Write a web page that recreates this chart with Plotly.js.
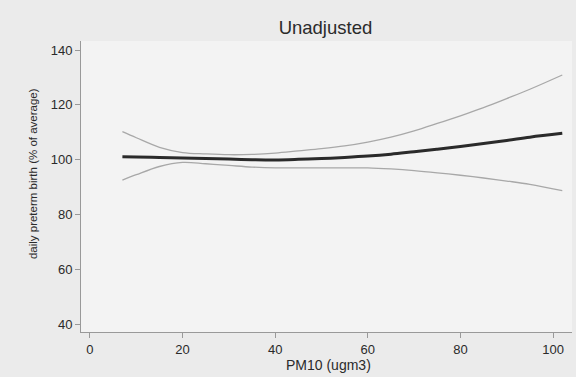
<!DOCTYPE html>
<html>
<head>
<meta charset="utf-8">
<script src="https://cdn.plot.ly/plotly-3.0.1.min.js"></script>
<style>html,body{margin:0;padding:0;background:#ebebeb;}#chart{width:576px;height:377px;}</style>
</head>
<body>
<div id="chart"></div>
<script>
var pm10 = [7, 10, 15, 20, 25, 30, 35, 40, 45, 50, 55, 60, 65, 70, 75, 80, 85, 90, 95, 102];
var estimate = [101.1, 101.0, 100.8, 100.6, 100.4, 100.2, 100.0, 99.9, 100.1, 100.4, 100.8, 101.3, 102.0, 102.9, 103.8, 104.8, 105.9, 107.0, 108.2, 109.6];
var upperCI = [110.2, 108.0, 104.5, 102.6, 102.1, 101.8, 101.9, 102.4, 103.2, 104.0, 105.0, 106.4, 108.2, 110.5, 113.2, 116.0, 119.0, 122.3, 125.7, 130.9];
var lowerCI = [92.5, 94.5, 97.5, 99.0, 98.5, 97.9, 97.3, 97.0, 97.0, 97.0, 97.0, 97.0, 96.6, 96.0, 95.2, 94.3, 93.3, 92.2, 91.0, 88.7];
var xTicks = [0, 20, 40, 60, 80, 100];
var yTicks = [40, 60, 80, 100, 120, 140];

var traces = [
  {x: pm10, y: upperCI, mode: 'lines', line: {color: '#a8a8a8', width: 1.3, shape: 'spline'}, hoverinfo: 'skip'},
  {x: pm10, y: lowerCI, mode: 'lines', line: {color: '#a8a8a8', width: 1.3, shape: 'spline'}, hoverinfo: 'skip'},
  {x: pm10, y: estimate, mode: 'lines', line: {color: '#2a2a2a', width: 3, shape: 'spline'}}
];

var layout = {
  width: 576, height: 377,
  paper_bgcolor: '#ebebeb',
  plot_bgcolor: '#f3f3f3',
  showlegend: false,
  margin: {l: 81, r: 4, t: 41, b: 45},
  font: {family: 'Liberation Sans, Arial, sans-serif', color: '#2a2a2a', size: 13},
  title: {text: 'Unadjusted', x: 0.565, xanchor: 'center', y: 0.928, yanchor: 'middle', font: {size: 18.5, color: '#2a2a2a'}},
  xaxis: {
    range: [-1.94, 104.1],
    tickvals: xTicks, ticktext: xTicks.map(String),
    ticks: 'outside', ticklen: 5, tickcolor: '#999999', tickwidth: 1,
    showgrid: false, zeroline: false,
    showline: true, linecolor: '#999999', linewidth: 1,
    tickfont: {size: 13, color: '#2a2a2a'}
  },
  yaxis: {
    range: [37.1, 143.3],
    tickvals: yTicks, ticktext: yTicks.map(String),
    ticks: 'outside', ticklen: 5, tickcolor: '#999999', tickwidth: 1,
    showgrid: false, zeroline: false,
    showline: true, linecolor: '#999999', linewidth: 1,
    tickfont: {size: 13, color: '#2a2a2a'}
  },
  annotations: [
    {text: 'PM10 (ugm3)', xref: 'paper', yref: 'paper', x: 0.505, y: -0.112, xanchor: 'center', yanchor: 'middle', showarrow: false, font: {size: 14, color: '#2a2a2a'}},
    {text: 'daily preterm birth (% of average)', xref: 'paper', yref: 'paper', x: -0.0978, y: 0.546, xanchor: 'center', yanchor: 'middle', textangle: -90, showarrow: false, font: {size: 11.5, color: '#2a2a2a'}}
  ]
};

Plotly.newPlot('chart', traces, layout, {displayModeBar: false, staticPlot: true});
</script>
</body>
</html>
